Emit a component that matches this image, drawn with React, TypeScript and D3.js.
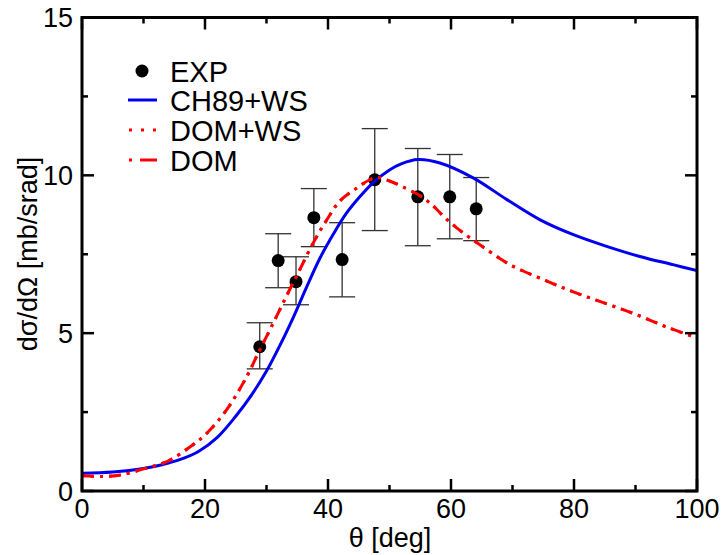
import React from "react";
import * as d3 from "d3";

const expTheta = [28.9, 31.9, 34.8, 37.7, 42.3, 47.6, 54.6, 59.8, 64.1];
const expValue = [4.57, 7.3, 6.63, 8.66, 7.33, 9.86, 9.32, 9.32, 8.94];
const expHigh = [5.33, 8.15, 7.42, 9.58, 8.5, 11.48, 10.85, 10.66, 9.93];
const expLow = [3.87, 6.44, 5.9, 7.74, 6.15, 8.25, 7.77, 7.99, 7.93];

const ch89Theta = [0, 5, 10, 13, 16, 19, 22, 25, 27.5, 30, 32.2, 34.4, 36.5, 38.7, 40.9, 43, 45.2, 47.4, 50, 52, 54.6, 58.2, 63.6, 69.1, 74.5, 79.9, 85.3, 90.7, 96.1, 100];
const ch89Value = [0.56, 0.6, 0.71, 0.83, 1.0, 1.26, 1.7, 2.37, 3.02, 3.8, 4.62, 5.52, 6.45, 7.38, 8.15, 8.8, 9.33, 9.78, 10.17, 10.37, 10.5, 10.39, 9.92, 9.23, 8.59, 8.12, 7.75, 7.43, 7.17, 6.98];

const domTheta = [0, 3, 6, 10, 14, 17.6, 20.3, 23.5, 26.8, 28.9, 31.1, 33.3, 35, 37.6, 39.8, 41.9, 44.7, 46.8, 48, 50, 52, 55, 57, 58.8, 61.5, 64.7, 69.6, 75, 80, 85, 90, 95, 100];
const domValue = [0.48, 0.46, 0.5, 0.7, 0.95, 1.4, 1.83, 2.57, 3.63, 4.47, 5.32, 6.2, 6.85, 7.86, 8.59, 9.18, 9.6, 9.86, 9.93, 9.82, 9.65, 9.35, 9.05, 8.7, 8.25, 7.8, 7.17, 6.7, 6.3, 5.95, 5.6, 5.2, 4.85];
const domWsValue = domValue;

const xTicks = [0, 20, 40, 60, 80, 100];
const yTicks = [0, 5, 10, 15];
const legendLabels = ["EXP", "CH89+WS", "DOM+WS", "DOM"];

export default function App() {
  const W = 722, H = 555;
  const left = 82, right = 697, top = 17.5, bottom = 491;
  const x = d3.scaleLinear().domain([0, 100]).range([left, right]);
  const y = d3.scaleLinear().domain([0, 15]).range([bottom, top]);
  const line = (xs: number[], ys: number[]) =>
    d3.line<number>().x((_, i) => x(xs[i])).y((_, i) => y(ys[i])).curve(d3.curveCatmullRom.alpha(0.5))(xs.map((_, i) => i)) || "";

  const xMinor = d3.range(10, 100, 20);
  const yMinor = d3.range(2.5, 15, 5);
  const font = "Liberation Sans, Arial, Helvetica, sans-serif";
  const major = 12, minor = 6;

  return (
    <svg width={W} height={H} style={{ position: "absolute", left: 0, top: 0 }} fontFamily={font}>
      <rect width={W} height={H} fill="white" />
      <defs>
        <clipPath id="plot">
          <rect x={left} y={top} width={right - left} height={bottom - top} />
        </clipPath>
      </defs>
      <g>
        {expTheta.map((t, i) => (
          <g key={i} stroke="#333" strokeWidth={1.3}>
            <line x1={x(t)} x2={x(t)} y1={y(expHigh[i])} y2={y(expLow[i])} />
            <line x1={x(t) - 13} x2={x(t) + 13} y1={y(expHigh[i])} y2={y(expHigh[i])} />
            <line x1={x(t) - 13} x2={x(t) + 13} y1={y(expLow[i])} y2={y(expLow[i])} />
          </g>
        ))}
        {expTheta.map((t, i) => (
          <circle key={i} cx={x(t)} cy={y(expValue[i])} r={6.5} fill="black" />
        ))}
      </g>
      <g clipPath="url(#plot)" fill="none">
        <path d={line(ch89Theta, ch89Value)} stroke="#0000ee" strokeWidth={3} />
        <path d={line(domTheta, domWsValue)} stroke="#ff0000" strokeWidth={3} strokeDasharray="3,6" />
        <path d={line(domTheta, domValue)} stroke="#ff0000" strokeWidth={3} strokeDasharray="12,6,3,6" />
      </g>
      <g stroke="black" strokeWidth={2.5}>
        {xTicks.map((t) => (
          <g key={"xt" + t}>
            <line x1={x(t)} x2={x(t)} y1={bottom} y2={bottom - major} />
            <line x1={x(t)} x2={x(t)} y1={top} y2={top + major} />
          </g>
        ))}
        {xMinor.map((t) => (
          <g key={"xm" + t}>
            <line x1={x(t)} x2={x(t)} y1={bottom} y2={bottom - minor} />
            <line x1={x(t)} x2={x(t)} y1={top} y2={top + minor} />
          </g>
        ))}
        {yTicks.map((t) => (
          <g key={"yt" + t}>
            <line x1={left} x2={left + major} y1={y(t)} y2={y(t)} />
            <line x1={right} x2={right - major} y1={y(t)} y2={y(t)} />
          </g>
        ))}
        {yMinor.map((t) => (
          <g key={"ym" + t}>
            <line x1={left} x2={left + minor} y1={y(t)} y2={y(t)} />
            <line x1={right} x2={right - minor} y1={y(t)} y2={y(t)} />
          </g>
        ))}
      </g>
      <rect x={left} y={top} width={right - left} height={bottom - top} fill="none" stroke="black" strokeWidth={3} />
      <g fontSize={27} fill="black">
        {xTicks.map((t) => (
          <text key={"xl" + t} x={x(t)} y={518} textAnchor="middle">{t}</text>
        ))}
        {yTicks.map((t) => (
          <text key={"yl" + t} x={73} y={y(t) + 9.5} textAnchor="end">{t}</text>
        ))}
      </g>
      <text x={390} y={547} fontSize={27} textAnchor="middle">θ [deg]</text>
      <text transform={`translate(37,254) rotate(-90)`} fontSize={27} textAnchor="middle">dσ/dΩ [mb/srad]</text>
      <g fontSize={29}>
        <circle cx={142} cy={71} r={6.5} fill="black" />
        <line x1={128} x2={157} y1={100} y2={100} stroke="#0000ee" strokeWidth={3} />
        <line x1={129} x2={157} y1={130} y2={130} stroke="#ff0000" strokeWidth={3} strokeDasharray="3,9" />
        <line x1={129} x2={157} y1={160} y2={160} stroke="#ff0000" strokeWidth={3} strokeDasharray="3,8,17,0" />
        {legendLabels.map((l, i) => (
          <text key={l} x={170} y={71 + i * 29.7 + 10.5}>{l}</text>
        ))}
      </g>
    </svg>
  );
}
